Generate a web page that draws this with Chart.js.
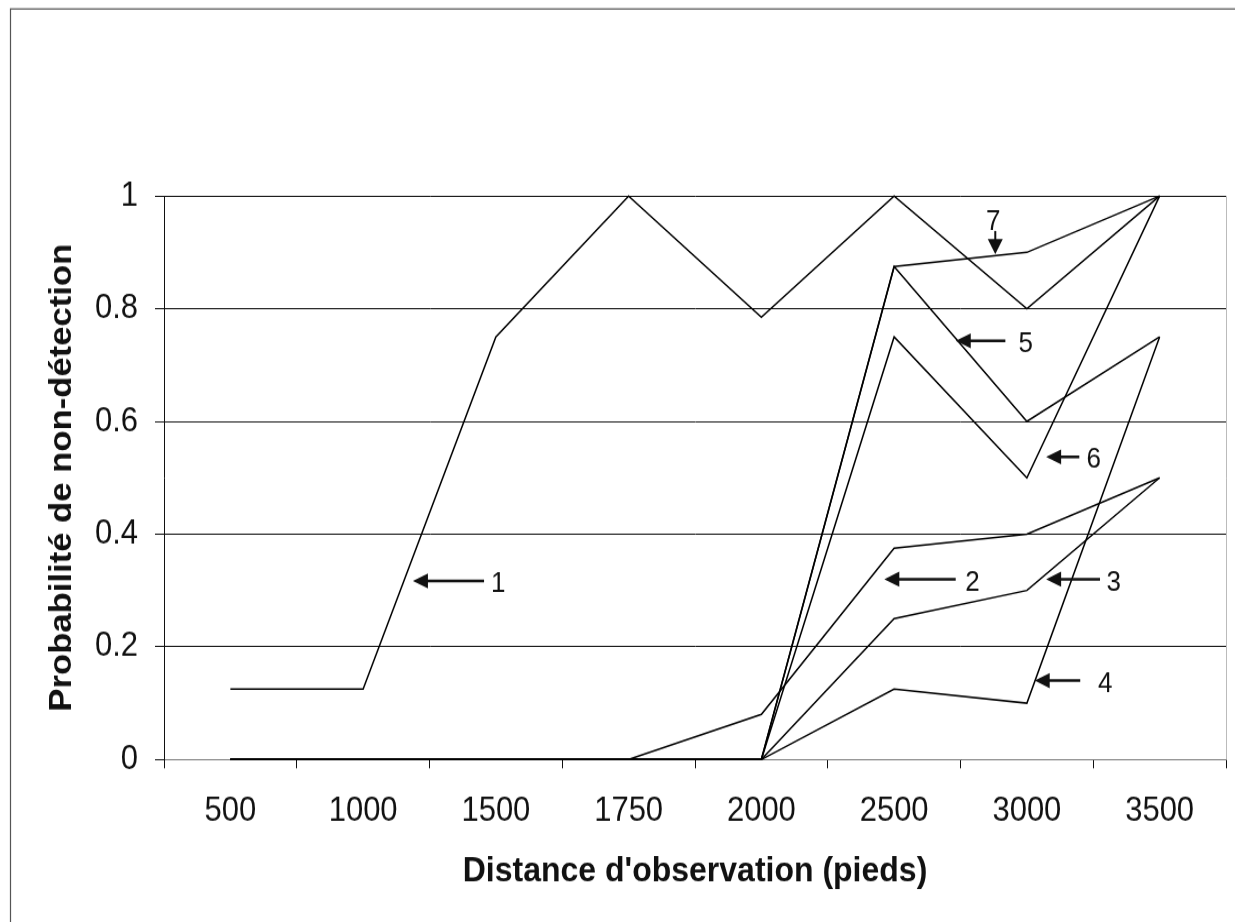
<!DOCTYPE html>
<html>
<head>
<meta charset="utf-8">
<script src="https://cdn.jsdelivr.net/npm/chart.js@4"></script>
<style>
html,body{margin:0;padding:0;background:#fff}
#c{display:block;width:1235px;height:922px}
</style>
</head>
<body>
<canvas id="c" width="1235" height="838" style="width:1235px;height:922px"></canvas>
<script>
// ---- data ----
const categories = ['500', '1000', '1500', '1750', '2000', '2500', '3000', '3500'];
const yTickLabels = ['0', '0.2', '0.4', '0.6', '0.8', '1'];
const series1 = [0.125, 0.125, 0.75, 1, 0.785, 1, 0.8, 1];
const series2 = [0, 0, 0, 0, 0.08, 0.375, 0.4, 0.5];
const series3 = [0, 0, 0, 0, 0, 0.25, 0.3, 0.5];
const series4 = [0, 0, 0, 0, 0, 0.125, 0.1, 0.75];
const series5 = [0, 0, 0, 0, 0, 0.875, 0.6, 0.75];
const series6 = [0, 0, 0, 0, 0, 0.75, 0.5, 1];
const series7 = [0, 0, 0, 0, 0, 0.875, 0.9, 1];
const seriesNames = ['1', '2', '3', '4', '5', '6', '7'];
const xTitle = "Distance d'observation (pieds)";
const yTitle = 'Probabilité de non-détection';

// arrow call-outs, in data space (x = category index, y = value)
const arrowNotes = [
  {text: '1', tipX: 1.375, tailX: 1.911, y: 0.317, labelX: 2.017},
  {text: '2', tipX: 4.926, tailX: 5.464, y: 0.320, labelX: 5.590},
  {text: '3', tipX: 6.145, tailX: 6.551, y: 0.320, labelX: 6.655},
  {text: '4', tipX: 6.059, tailX: 6.402, y: 0.140, labelX: 6.590},
  {text: '5', tipX: 5.464, tailX: 5.838, y: 0.743, labelX: 5.991},
  {text: '6', tipX: 6.145, tailX: 6.395, y: 0.537, labelX: 6.503}
];
const downArrowNotes = [
  {text: '7', x: 5.762, tailY: 0.938, tipY: 0.897, labelX: 5.747, labelY: 0.954}
];

// ---- rendering ----
const S = 922 / 838;         // vertical stretch applied by CSS size
const H = 838;
const INK = '#111';
const FONT = "'Liberation Sans', Arial, Helvetica, sans-serif";
Chart.defaults.font.family = FONT;
Chart.defaults.color = INK;

const allSeries = [series1, series2, series3, series4, series5, series6, series7];

const framePlugin = {
  id: 'frame',
  beforeDraw(chart) {
    const ctx = chart.ctx;
    ctx.save();
    ctx.fillStyle = '#fff';
    ctx.fillRect(0, 0, chart.width, chart.height);
    ctx.strokeStyle = '#555';
    ctx.lineWidth = 1.2;
    ctx.beginPath();
    ctx.moveTo(10.5, chart.height);
    ctx.lineTo(10.5, 8.2);
    ctx.lineTo(chart.width, 8.2);
    ctx.stroke();
    ctx.restore();
  },
  afterDraw(chart) {
    const ctx = chart.ctx, a = chart.chartArea;
    ctx.save();
    ctx.strokeStyle = '#bbb';
    ctx.lineWidth = 1;
    ctx.beginPath();
    ctx.moveTo(Math.round(a.right) + 0.5, a.top);
    ctx.lineTo(Math.round(a.right) + 0.5, a.bottom);
    ctx.stroke();
    ctx.restore();
  }
};

const arrowPlugin = {
  id: 'arrows',
  afterDatasetsDraw(chart) {
    const ctx = chart.ctx;
    const xs = chart.scales.x, ys = chart.scales.y;
    const HL = 15, HW = 7.5, SW = 2.8;
    ctx.save();
    // geometry in true (final) pixels
    ctx.save();
    ctx.scale(1, 1 / S);
    ctx.fillStyle = INK;
    ctx.strokeStyle = INK;
    ctx.lineWidth = SW;
    arrowNotes.forEach(n => {
      const tip = xs.getPixelForValue(n.tipX);
      const tail = xs.getPixelForValue(n.tailX);
      const y = ys.getPixelForValue(n.y) * S;
      ctx.beginPath();
      ctx.moveTo(tail, y);
      ctx.lineTo(tip + HL - 1, y);
      ctx.stroke();
      ctx.beginPath();
      ctx.moveTo(tip, y);
      ctx.lineTo(tip + HL, y - HW);
      ctx.lineTo(tip + HL, y + HW);
      ctx.closePath();
      ctx.fill();
    });
    downArrowNotes.forEach(n => {
      const x = xs.getPixelForValue(n.x);
      const tail = ys.getPixelForValue(n.tailY) * S;
      const tip = ys.getPixelForValue(n.tipY) * S;
      ctx.lineWidth = 2;
      ctx.beginPath();
      ctx.moveTo(x, tail);
      ctx.lineTo(x, tip - HL + 1);
      ctx.stroke();
      ctx.beginPath();
      ctx.moveTo(x, tip);
      ctx.lineTo(x - HW, tip - HL);
      ctx.lineTo(x + HW, tip - HL);
      ctx.closePath();
      ctx.fill();
    });
    ctx.restore();
    // labels (stretched like all other text)
    ctx.fillStyle = INK;
    ctx.font = '26px ' + FONT;
    ctx.textAlign = 'center';
    ctx.textBaseline = 'middle';
    arrowNotes.forEach(n => {
      ctx.fillText(n.text, xs.getPixelForValue(n.labelX), ys.getPixelForValue(n.y) + 3);
    });
    downArrowNotes.forEach(n => {
      ctx.fillText(n.text, xs.getPixelForValue(n.labelX), ys.getPixelForValue(n.labelY));
    });
    ctx.restore();
  }
};

const PLOT_TOP = 196 / S;
const PLOT_BOTTOM = 759.5 / S;

new Chart(document.getElementById('c'), {
  type: 'line',
  data: {
    labels: categories,
    datasets: allSeries.map((d, i) => ({
      label: seriesNames[i],
      data: d,
      borderColor: '#000',
      borderWidth: 1.5,
      pointRadius: 0,
      tension: 0,
      fill: false,
      clip: false
    }))
  },
  options: {
    responsive: false,
    animation: false,
    devicePixelRatio: 1,
    layout: {padding: {top: PLOT_TOP, right: 9, bottom: 0, left: 0}},
    plugins: {legend: {display: false}, tooltip: {enabled: false}, title: {display: false}},
    scales: {
      x: {
        type: 'category',
        offset: true,
        grid: {offset: true, drawOnChartArea: false, drawTicks: true, tickLength: 8, color: INK, lineWidth: 1},
        border: {color: '#777', width: 1},
        ticks: {font: {size: 31}, color: INK, padding: 21, maxRotation: 0, autoSkip: false},
        title: {display: true, text: xTitle, color: INK, font: {size: 32, weight: 'bold'}, padding: {top: 0, bottom: 27}},
        afterFit(s) { s.height = H - PLOT_BOTTOM; }
      },
      y: {
        min: 0,
        max: 1,
        ticks: {stepSize: 0.2, font: {size: 31}, color: INK, padding: 17,
                callback: (v, i) => yTickLabels[i]},
        grid: {color: INK, lineWidth: 1, tickLength: 9, drawTicks: true},
        border: {color: INK, width: 1},
        title: {display: true, text: yTitle, color: INK, font: {size: 31.5, weight: 'bold'}, padding: {top: 43, bottom: 0}},
        afterFit(s) { s.width = 164; }
      }
    }
  },
  plugins: [framePlugin, arrowPlugin]
});
</script>
</body>
</html>
